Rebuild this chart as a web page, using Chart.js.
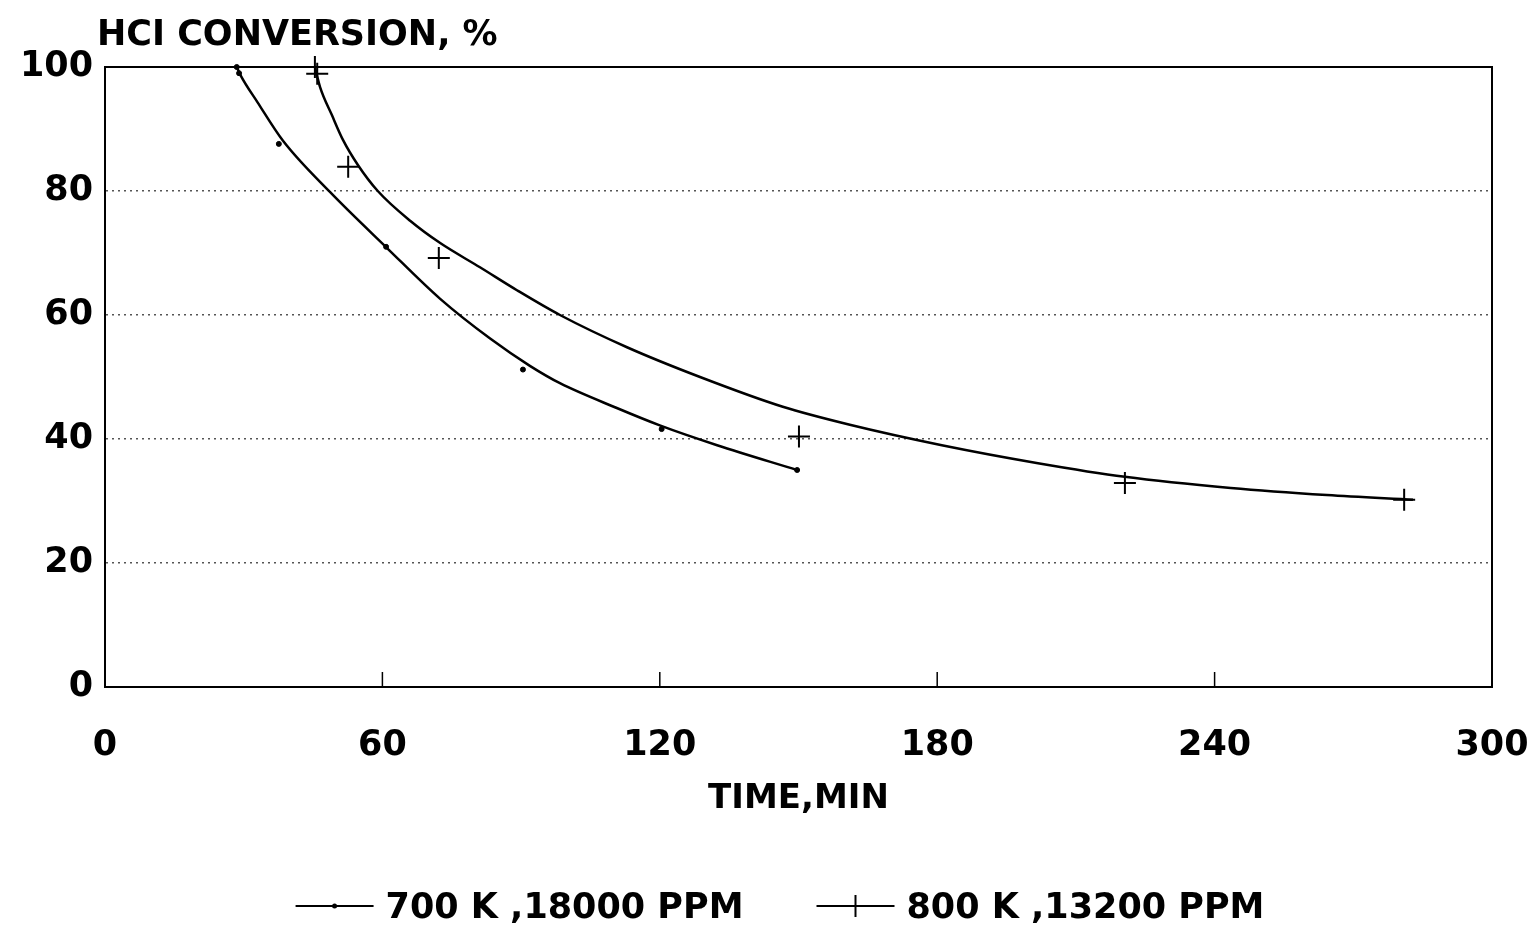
<!DOCTYPE html>
<html>
<head>
<meta charset="utf-8">
<script src="https://cdn.jsdelivr.net/npm/chart.js@4.4.0/dist/chart.umd.min.js"></script>
<style>
  html, body { margin: 0; padding: 0; background: #fff; }
</style>
</head>
<body>
<canvas id="chart" width="1537" height="925"></canvas>
<script>
// measured points (markers)
const pts700X = [28.5, 29.0, 37.6, 60.8, 90.4, 120.4, 149.7];
const pts700Y = [100, 99.0, 87.6, 71.0, 51.2, 41.6, 35.0];
const pts800X = [45.4, 45.9, 52.6, 72.2, 150.1, 220.6, 281.0];
const pts800Y = [100, 98.9, 83.9, 69.2, 40.4, 32.9, 30.2];

// fitted curves
const fit700X = [28.5, 29.3, 33.0, 38.5, 48.7, 61.0, 72.5, 83.3, 91.9, 98.4, 110.7, 120.0, 132.4, 149.7];
const fit700Y = [100, 98.7, 94.3, 88.1, 79.8, 70.8, 62.6, 56.2, 51.8, 49.0, 45.0, 42.2, 39.0, 35.0];
const fit800X = [45.4, 46.5, 49.1, 51.5, 54.7, 59.0, 66.0, 72.5, 81.1, 89.1, 98.4, 112.9, 128.7, 146.6, 161.1, 181.0, 201.8, 220.6, 243.5, 264.3, 282.9];
const fit800Y = [100, 96.8, 92.2, 88.2, 84.2, 80.0, 75.2, 71.6, 67.7, 64.0, 60.0, 54.8, 50.0, 45.2, 42.3, 39.0, 36.1, 33.9, 32.1, 30.95, 30.2];

const xTicks = [0, 60, 120, 180, 240, 300];
const yTicks = [0, 20, 40, 60, 80, 100];
const seriesLabels = ['700 K ,18000 PPM', '800 K ,13200 PPM'];
const yTitle = 'HCI CONVERSION, %';
const xTitle = 'TIME,MIN';

const FONT = '"DejaVu Sans", sans-serif';

function pairs(xs, ys) {
    return xs.map((x, i) => ({ x: x, y: ys[i] }));
}

// frame, inner tick marks, title and legend
const decorations = {
    id: 'decorations',
    afterDraw(chart) {
        const { ctx, chartArea: a, scales } = chart;
        ctx.save();
        ctx.strokeStyle = '#000';
        ctx.lineWidth = 2;
        ctx.strokeRect(a.left, a.top, a.right - a.left, a.bottom - a.top);

        // small ticks pointing up into the plot
        ctx.lineWidth = 1.5;
        xTicks.forEach(v => {
            if (v === xTicks[0] || v === xTicks[xTicks.length - 1]) return;
            const px = scales.x.getPixelForValue(v);
            ctx.beginPath();
            ctx.moveTo(px, a.bottom);
            ctx.lineTo(px, a.bottom - 15);
            ctx.stroke();
        });

        ctx.fillStyle = '#000';
        ctx.font = 'bold 35px ' + FONT;
        ctx.textBaseline = 'alphabetic';
        ctx.textAlign = 'left';
        ctx.fillText(yTitle, a.left - 8, 45);

        // legend
        ctx.font = 'bold 35px ' + FONT;
        const lineLen = 78, gapText = 12, gapItem = 73;
        const widths = seriesLabels.map(t => ctx.measureText(t).width);
        const total = widths.reduce((s, w) => s + lineLen + gapText + w, 0) + gapItem;
        let x = 780 - total / 2;
        const y = 906;
        seriesLabels.forEach((t, i) => {
            ctx.lineWidth = 2;
            ctx.beginPath();
            ctx.moveTo(x, y);
            ctx.lineTo(x + lineLen, y);
            ctx.stroke();
            const cx = x + lineLen / 2;
            if (i === 0) {
                ctx.beginPath();
                ctx.arc(cx, y, 2.5, 0, Math.PI * 2);
                ctx.fill();
            } else {
                ctx.beginPath();
                ctx.moveTo(cx, y - 11);
                ctx.lineTo(cx, y + 11);
                ctx.stroke();
            }
            ctx.fillText(t, x + lineLen + gapText, 918);
            x += lineLen + gapText + widths[i] + gapItem;
        });
        ctx.restore();
    }
};

new Chart(document.getElementById('chart'), {
    type: 'scatter',
    data: {
        datasets: [
            {
                label: seriesLabels[0] + ' fit',
                data: pairs(fit700X, fit700Y),
                showLine: true,
                borderColor: '#000',
                borderWidth: 2.5,
                pointRadius: 0,
                cubicInterpolationMode: 'monotone',
                clip: false,
            },
            {
                label: seriesLabels[1] + ' fit',
                data: pairs(fit800X, fit800Y),
                showLine: true,
                borderColor: '#000',
                borderWidth: 2.5,
                pointRadius: 0,
                cubicInterpolationMode: 'monotone',
                clip: false,
            },
            {
                label: seriesLabels[0],
                data: pairs(pts700X, pts700Y),
                showLine: false,
                pointStyle: 'circle',
                pointRadius: 2.5,
                backgroundColor: '#000',
                borderColor: '#000',
                borderWidth: 1,
                clip: false,
            },
            {
                label: seriesLabels[1],
                data: pairs(pts800X, pts800Y),
                showLine: false,
                pointStyle: 'cross',
                pointRadius: 11,
                borderColor: '#000',
                borderWidth: 2,
                clip: false,
            },
        ],
    },
    options: {
        responsive: false,
        animation: false,
        events: [],
        layout: { padding: { top: 67, right: 45, bottom: 101, left: 0 } },
        plugins: {
            legend: { display: false },
            tooltip: { enabled: false },
        },
        scales: {
            x: {
                type: 'linear',
                min: 0,
                max: 300,
                afterBuildTicks: s => { s.ticks = xTicks.map(v => ({ value: v })); },
                afterFit: s => { s.height = 137; s.paddingLeft = 0; s.paddingRight = 0; },
                ticks: {
                    color: '#000',
                    font: { family: FONT, size: 35, weight: 'bold' },
                    padding: 30,
                    maxRotation: 0,
                },
                grid: { display: false },
                border: { display: true, color: '#000', width: 2 },
                title: {
                    display: true,
                    text: xTitle,
                    color: '#000',
                    font: { family: FONT, size: 34, weight: 'bold' },
                    padding: { top: 30 },
                },
            },
            y: {
                min: 0,
                max: 100,
                afterBuildTicks: s => { s.ticks = yTicks.map(v => ({ value: v })); },
                afterFit: s => { s.width = 105; s.paddingTop = 0; s.paddingBottom = 0; },
                ticks: {
                    color: '#000',
                    font: { family: FONT, size: 35, weight: 'bold' },
                    padding: 12,
                },
                grid: {
                    drawTicks: false,
                    lineWidth: 1.5,
                    color: c => (c.tick && (c.tick.value === 0 || c.tick.value === 100)) ? 'rgba(0,0,0,0)' : '#555',
                },
                border: { display: true, color: '#000', width: 2, dash: [2, 4] },
            },
        },
    },
    plugins: [decorations],
});
</script>
</body>
</html>
